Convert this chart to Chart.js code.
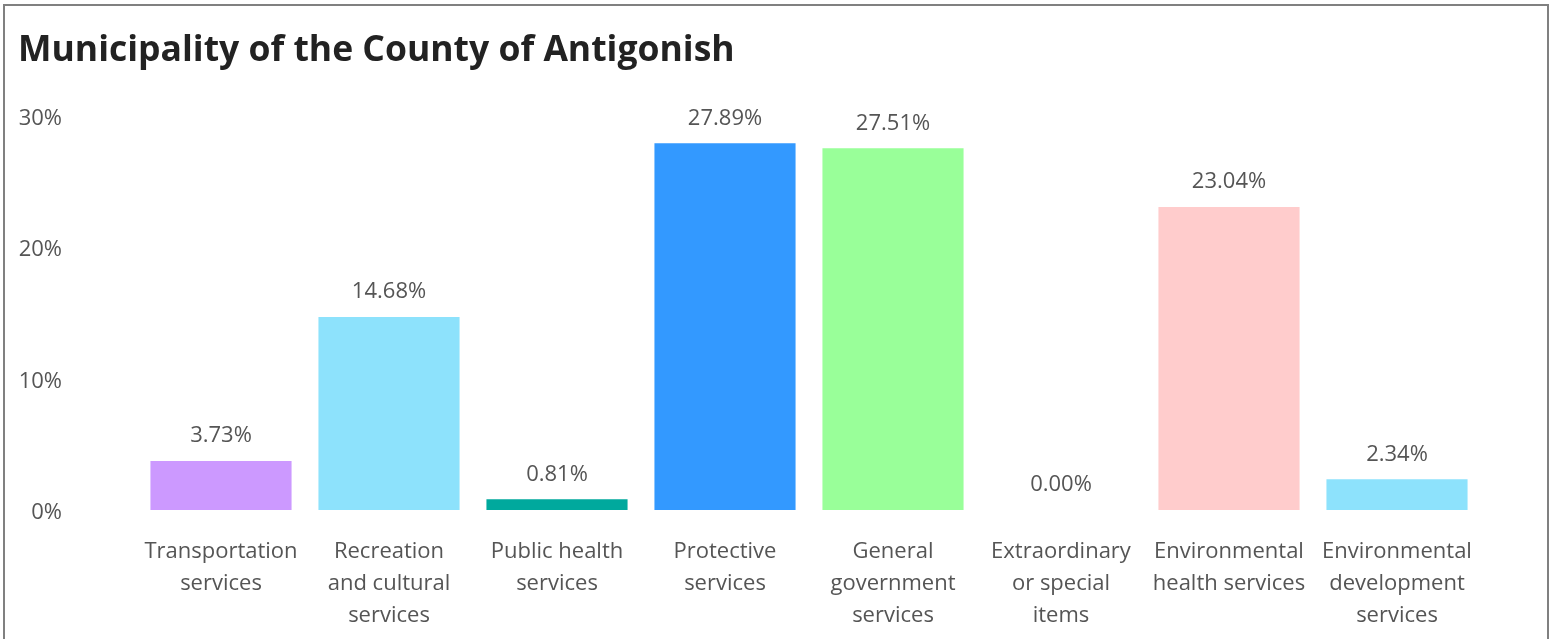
<!DOCTYPE html>
<html>
<head>
<meta charset="utf-8">
<script src="https://cdn.jsdelivr.net/npm/chart.js@4.4.1/dist/chart.umd.min.js"></script>
<style>
  html, body { margin: 0; padding: 0; background: #fff; overflow: hidden; }
  #box {
    position: absolute; left: 3px; top: 4px;
    width: 1542px; height: 700px;
    border: 2px solid #808080;
  }
  #wrap { position: relative; width: 1542px; height: 633px; }
</style>
</head>
<body>
<div id="box"><div id="wrap"><canvas id="myChart"></canvas></div></div>
<script>
const categories = [
  ["Transportation", "services"],
  ["Recreation", "and cultural", "services"],
  ["Public health", "services"],
  ["Protective", "services"],
  ["General", "government", "services"],
  ["Extraordinary", "or special", "items"],
  ["Environmental", "health services"],
  ["Environmental", "development", "services"],
];
const shares = [3.73, 14.68, 0.81, 27.89, 27.51, 0.0, 23.04, 2.34];
const barColors = [
  "#cc99ff", "#8de2fc", "#00a99d", "#3399ff",
  "#99ff99", "#cccccc", "#ffcccc", "#8de2fc",
];
const yTicks = [0, 10, 20, 30];

const FONT = "'Open Sans', 'Noto Sans', sans-serif";

// draws the value above each bar
const valueLabels = {
  id: "valueLabels",
  afterDatasetsDraw(chart) {
    const { ctx } = chart;
    const meta = chart.getDatasetMeta(0);
    ctx.save();
    ctx.font = "22px " + FONT;
    ctx.fillStyle = "#555555";
    ctx.textAlign = "center";
    ctx.textBaseline = "middle";
    meta.data.forEach((bar, i) => {
      ctx.fillText(shares[i].toFixed(2) + "%", bar.x, bar.y - 25);
    });
    ctx.restore();
  },
};

const ctx = document.getElementById("myChart");

const myChart = new Chart(ctx, {
  type: "bar",
  data: {
    labels: categories,
    datasets: [
      {
        label: "Share",
        data: shares,
        backgroundColor: barColors,
        categoryPercentage: 0.84,
        barPercentage: 1.0,
      },
    ],
  },
  options: {
    responsive: true,
    maintainAspectRatio: false,
    animation: false,
    layout: { padding: { left: 13, right: 66, top: 0, bottom: 0 } },
    plugins: {
      legend: { display: false },
      tooltip: { enabled: false },
      title: {
        display: true,
        text: "Municipality of the County of Antigonish",
        align: "start",
        color: "#222222",
        font: { family: FONT, size: 35.5, weight: "bold" },
        padding: { top: 24, bottom: 43 },
      },
    },
    scales: {
      x: {
        grid: { display: false, drawTicks: false },
        border: { display: false },
        ticks: {
          color: "#555555",
          font: { family: FONT, size: 22, lineHeight: 32 / 22 },
          padding: 26,
          maxRotation: 0,
          autoSkip: false,
        },
        afterFit(s) { s.height = 129; },
      },
      y: {
        min: 0,
        max: 30,
        grid: { display: false, drawTicks: false },
        border: { display: false },
        afterBuildTicks(s) { s.ticks = yTicks.map((v) => ({ value: v })); },
        ticks: {
          color: "#555555",
          font: { family: FONT, size: 22 },
          padding: 75,
          labelOffset: 3,
          callback: (v) => v + "%",
        },
        afterFit(s) { s.width = 119; },
      },
    },
  },
  plugins: [valueLabels],
});
</script>
</body>
</html>
